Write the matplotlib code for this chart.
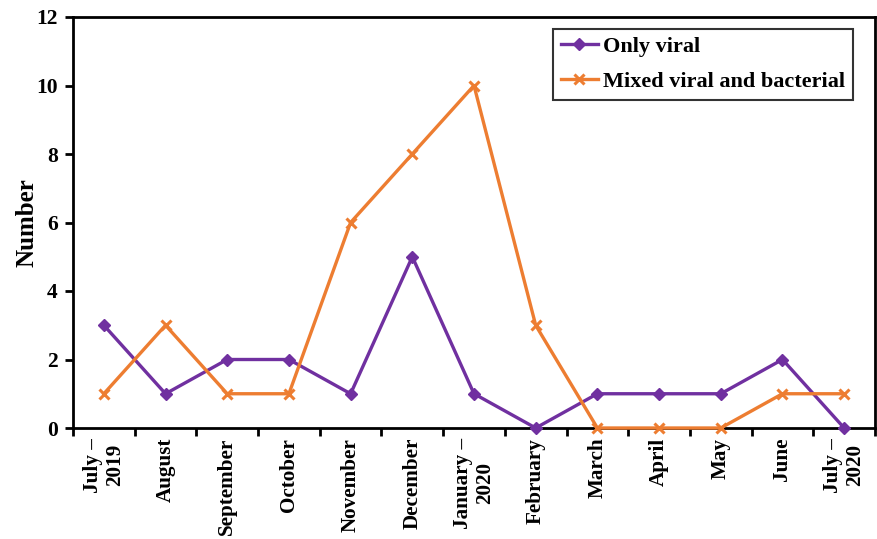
import matplotlib
matplotlib.use("Agg")
import matplotlib.pyplot as plt
import numpy as np

months = ["July –\n2019", "August", "September", "October", "November", "December",
          "January –\n2020", "February", "March", "April", "May", "June", "July –\n2020"]
only_viral = [3, 1, 2, 2, 1, 5, 1, 0, 1, 1, 1, 2, 0]
mixed = [1, 3, 1, 1, 6, 8, 10, 3, 0, 0, 0, 1, 1]

plt.rcParams['font.family'] = ['Liberation Serif', 'DejaVu Serif']
plt.rcParams['font.weight'] = 'bold'

fig = plt.figure(figsize=(8.77, 5.39), dpi=100)
ax = fig.add_axes([73/877, 111/539, 802/877, 411/539])

x = np.arange(len(months)) + 0.5
ax.plot(x, only_viral, color='#7030A0', lw=2.4, marker='D', ms=6, label='Only viral', clip_on=False, zorder=3)
ax.plot(x, mixed, color='#ED7D31', lw=2.4, marker='x', ms=7, mew=2.2, label='Mixed viral and bacterial', clip_on=False, zorder=3)

ax.set_xlim(0, len(months))
ax.set_ylim(0, 12)
ax.set_yticks(range(0, 13, 2))
ax.set_xticks(np.arange(0, len(months) + 1))
ax.set_xticklabels([])
ax.set_xticks(x, minor=True)
ax.set_xticklabels(months, minor=True, rotation=90, fontsize=15.2, fontweight='bold', va='top', ha='center', linespacing=1.15)
ax.tick_params(axis='x', which='minor', length=0, pad=7)
ax.tick_params(axis='x', which='major', length=6, width=2, direction='out')
ax.tick_params(axis='y', length=6, width=2, direction='out', labelsize=15.5, pad=5)
for lbl in ax.get_yticklabels():
    lbl.set_fontweight('bold')
for s in ax.spines.values():
    s.set_linewidth(2)
ax.set_ylabel('Number', fontsize=18, fontweight='bold', labelpad=-2)

leg = ax.legend(loc='upper right', bbox_to_anchor=(0.972, 0.972), fontsize=16, frameon=True,
                fancybox=False, edgecolor='black', handlelength=1.7, handletextpad=0.2,
                borderpad=0.35, borderaxespad=0, labelspacing=0.65)
leg.get_frame().set_linewidth(1.5)
for t in leg.get_texts():
    t.set_fontweight('bold')

fig.savefig('out.png', dpi=100)
